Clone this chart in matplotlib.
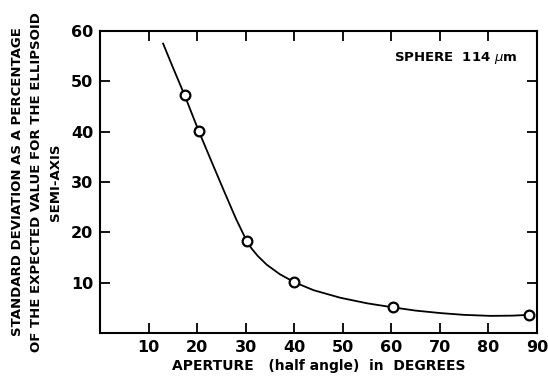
import matplotlib
matplotlib.use("Agg")
import matplotlib.pyplot as plt

# measured points (aperture half angle, std dev %)
aperture = [17.4, 20.3, 30.2, 40.0, 60.3, 88.3]
stdev = [47.3, 40.2, 18.3, 10.1, 5.1, 3.6]

# hand drawn smooth curve
curve_x = [13.0, 15.0, 17.4, 20.3, 23.0, 25.5, 28.0, 29.2, 30.2, 31.2, 32.5, 34.3,
           37.0, 40.0, 44.0, 49.5, 55.0, 60.3, 65.0, 70.2, 75.0, 80.5, 85.0, 88.3]
curve_y = [57.5, 52.8, 47.3, 40.2, 34.0, 28.3, 22.7, 20.3, 18.3, 16.8, 15.3, 13.6,
           11.7, 10.1, 8.5, 7.0, 5.9, 5.1, 4.45, 3.95, 3.6, 3.4, 3.45, 3.6]

xticks = [10, 20, 30, 40, 50, 60, 70, 80, 90]
yticks = [10, 20, 30, 40, 50, 60]

plt.rcParams['font.family'] = ['DejaVu Sans']

fig = plt.figure(figsize=(5.48, 3.8), dpi=100)
ax = fig.add_axes([0.1825, 0.1237, 0.7975, 0.7945])

ax.plot(curve_x, curve_y, color='black', lw=1.3, zorder=2)
ax.plot(aperture, stdev, 'o', ms=7, mfc='white', mec='black', mew=1.6, zorder=3)

ax.set_xlim(0, 90)
ax.set_ylim(0, 60)
ax.set_xticks(xticks)
ax.set_yticks(yticks)
ax.tick_params(direction='in', length=7, width=1.3, top=True, right=True,
               labelsize=11.5, pad=5)
for lab in ax.get_xticklabels() + ax.get_yticklabels():
    lab.set_fontweight('bold')
for s in ax.spines.values():
    s.set_linewidth(1.5)

ax.set_xlabel('APERTURE   (half angle)  in  DEGREES', fontsize=10,
              fontweight='bold', labelpad=3)
ax.set_ylabel('STANDARD DEVIATION AS A PERCENTAGE\n'
              'OF THE EXPECTED VALUE FOR THE ELLIPSOID\n'
              'SEMI-AXIS', fontsize=9.5, fontweight='bold', linespacing=1.6,
              labelpad=6)

ax.text(0.954, 0.91, r'SPHERE  114 $\mu$m', transform=ax.transAxes,
        ha='right', va='center', fontsize=9.5, fontweight='bold')

fig.savefig('out.png', dpi=100)
